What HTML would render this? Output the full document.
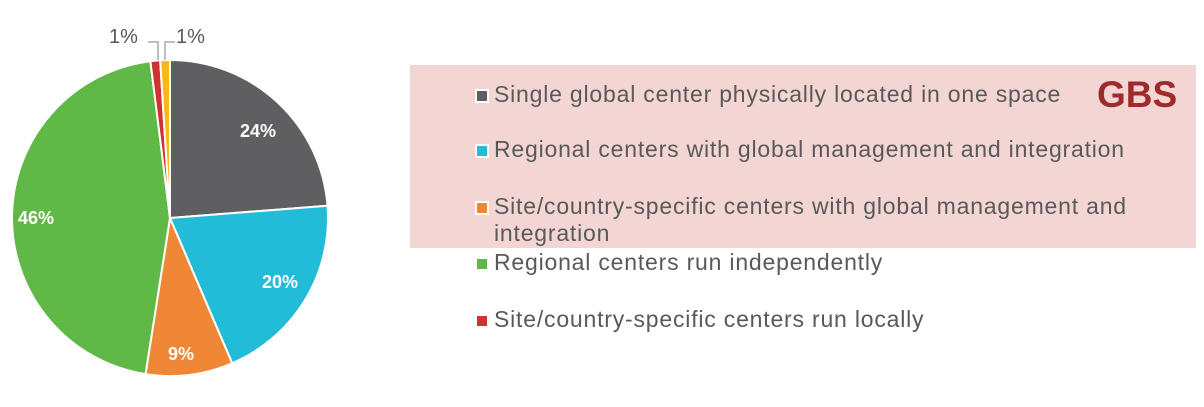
<!DOCTYPE html>
<html><head><style>
body{margin:0;width:1204px;height:407px;background:#fff;position:relative;overflow:hidden;font-family:"Liberation Sans",sans-serif}
.box{position:absolute;left:410px;top:65px;width:786px;height:183px;background:#f3d5d4}
.row{position:absolute;left:475px;font-size:23px;color:#595959;line-height:27px;letter-spacing:0.8px;white-space:nowrap}
.m{position:absolute;left:0;top:8px;width:10px;height:10px;border:2px solid #fff}
.t{margin-left:19px}
</style></head><body>
<div class="box"></div>
<svg width="400" height="407" style="position:absolute;left:0;top:0" font-family="Liberation Sans">
<g stroke="#fff" stroke-width="2" id="pie"></g>
<polyline points="158,60 158,42 148,42" fill="none" stroke="#bfbfbf" stroke-width="2"/>
<polyline points="165,60 165,42 175,42" fill="none" stroke="#bfbfbf" stroke-width="2"/>
<text x="109" y="43" font-size="20" fill="#595959">1%</text>
<text x="176" y="43" font-size="20" fill="#595959">1%</text>
<g fill="#fff" font-weight="bold" font-size="18" text-anchor="middle">
<text x="258" y="137">24%</text><text x="280" y="288">20%</text><text x="181" y="360">9%</text><text x="36" y="224">46%</text>
</g>
</svg>
<div class="row" style="top:81px"><span class="m" style="background:#5f5f61"></span><div class="t">Single global center physically located in one space</div></div>
<div class="row" style="top:136px"><span class="m" style="background:#22bcd9"></span><div class="t">Regional centers with global management and integration</div></div>
<div class="row" style="top:193px"><span class="m" style="background:#ef8736"></span><div class="t">Site/country-specific centers with global management and<br>integration</div></div>
<div class="row" style="top:249px"><span class="m" style="background:#60b946"></span><div class="t">Regional centers run independently</div></div>
<div class="row" style="top:306px"><span class="m" style="background:#cf3230"></span><div class="t">Site/country-specific centers run locally</div></div>
<div style="position:absolute;left:1097px;top:74px;font-size:37px;font-weight:bold;color:#9e2a2b">GBS</div>
<script>
var d=[[24,"#5f5f61"],[20,"#22bcd9"],[9,"#ef8736"],[46,"#60b946"],[1,"#cf3230"],[1,"#fbb715"]];
var cx=170,cy=218,r=158,a=0,g=document.getElementById("pie"),s="";
d.forEach(function(x){var b=a+x[0]/101*2*Math.PI;
var x1=cx+r*Math.sin(a),y1=cy-r*Math.cos(a),x2=cx+r*Math.sin(b),y2=cy-r*Math.cos(b);
s+='<path d="M'+cx+','+cy+' L'+x1+','+y1+' A'+r+','+r+' 0 '+(b-a>Math.PI?1:0)+' 1 '+x2+','+y2+' Z" fill="'+x[1]+'"/>';a=b;});
g.innerHTML=s;
</script>
</body></html>
